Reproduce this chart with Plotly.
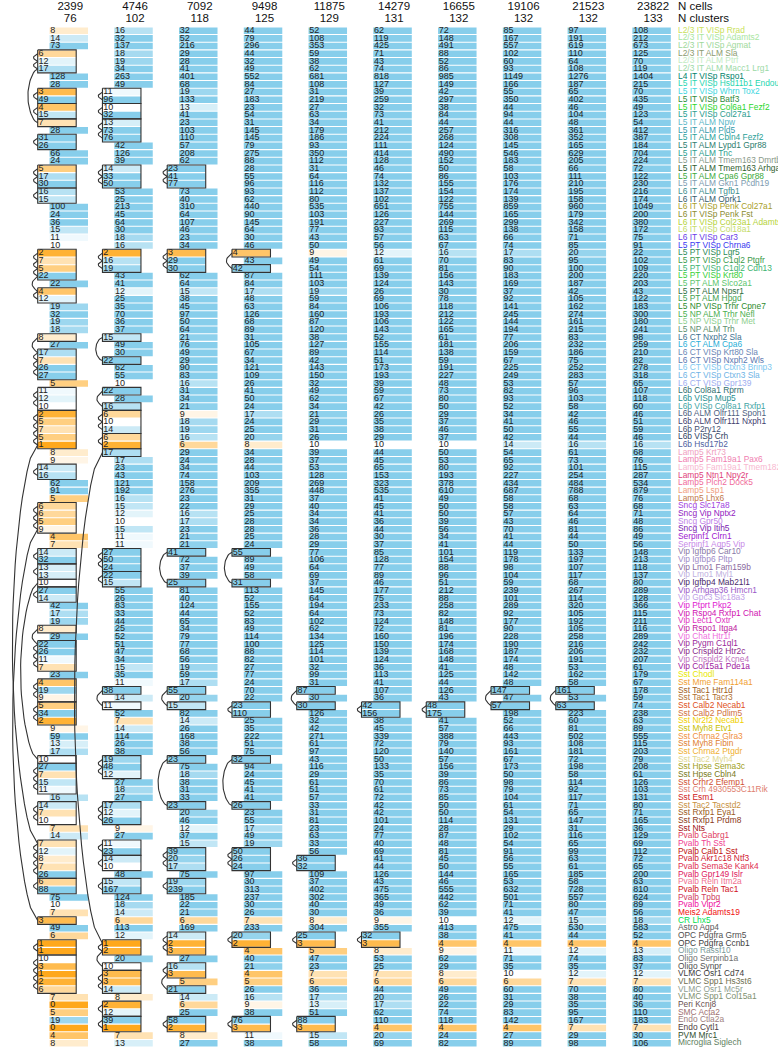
import math
import plotly.graph_objects as go

n_cells = [2399, 4746, 7092, 9498, 11875, 14279, 16655, 19106, 21523, 23822]
n_clusters = [76, 102, 118, 125, 129, 131, 132, 132, 132, 133]

cell_types = [
    "L2/3 IT VISp Rrad", "L2/3 IT VISp Adamts2", "L2/3 IT VISp Agmat", "L2/3 IT ALM Sla",
    "L2/3 IT ALM Ptrf", "L2/3 IT ALM Macc1 Lrg1", "L4 IT VISp Rspo1", "L5 IT VISp Hsd11b1 Endou",
    "L5 IT VISp Whrn Tox2", "L5 IT VISp Batf3", "L5 IT VISp Col6a1 Fezf2", "L5 IT VISp Col27a1",
    "L5 IT ALM Npw", "L5 IT ALM Pld5", "L5 IT ALM Cbln4 Fezf2", "L5 IT ALM Lypd1 Gpr88",
    "L5 IT ALM Tnc", "L5 IT ALM Tmem163 Dmrtb1", "L5 IT ALM Tmem163 Arhgap25", "L5 IT ALM Cpa6 Gpr88",
    "L5 IT ALM Gkn1 Pcdh19", "L6 IT ALM Tgfb1", "L6 IT ALM Oprk1", "L6 IT VISp Penk Col27a1",
    "L6 IT VISp Penk Fst", "L6 IT VISp Col23a1 Adamts2", "L6 IT VISp Col18a1", "L6 IT VISp Car3",
    "L5 PT VISp Chrna6", "L5 PT VISp Lgr5", "L5 PT VISp C1ql2 Ptgfr", "L5 PT VISp C1ql2 Cdh13",
    "L5 PT VISp Krt80", "L5 PT ALM Slco2a1", "L5 PT ALM Npsr1", "L5 PT ALM Hpgd",
    "L5 NP VISp Trhr Cpne7", "L5 NP ALM Trhr Nefl", "L5 NP VISp Trhr Met", "L5 NP ALM Trh",
    "L6 CT Nxph2 Sla", "L6 CT ALM Cpa6", "L6 CT VISp Krt80 Sla", "L6 CT VISp Nxph2 Wls",
    "L6 CT VISp Ctxn3 Brinp3", "L6 CT VISp Ctxn3 Sla", "L6 CT VISp Gpr139", "L6b Col8a1 Rprm",
    "L6b VISp Mup5", "L6b VISp Col8a1 Rxfp1", "L6b ALM Olfr111 Spon1", "L6b ALM Olfr111 Nxph1",
    "L6b P2ry12", "L6b VISp Crh", "L6b Hsd17b2", "Lamp5 Krt73",
    "Lamp5 Fam19a1 Pax6", "Lamp5 Fam19a1 Tmem182", "Lamp5 Ntn1 Npy2r", "Lamp5 Plch2 Dock5",
    "Lamp5 Lsp1", "Lamp5 Lhx6", "Sncg Slc17a8", "Sncg Vip Nptx2",
    "Sncg Gpr50", "Sncg Vip Itih5", "Serpinf1 Clrn1", "Serpinf1 Aqp5 Vip",
    "Vip Igfbp6 Car10", "Vip Igfbp6 Pltp", "Vip Lmo1 Fam159b", "Vip Lmo1 Myl1",
    "Vip Igfbp4 Mab21l1", "Vip Arhgap36 Hmcn1", "Vip Gpc3 Slc18a3", "Vip Ptprt Pkp2",
    "Vip Rspo4 Rxfp1 Chat", "Vip Lect1 Oxtr", "Vip Rspo1 Itga4", "Vip Chat Htr1f",
    "Vip Pygm C1ql1", "Vip Crispld2 Htr2c", "Vip Crispld2 Kcne4", "Vip Col15a1 Pde1a",
    "Sst Chodl", "Sst Mme Fam114a1", "Sst Tac1 Htr1d", "Sst Tac1 Tacr3",
    "Sst Calb2 Necab1", "Sst Calb2 Pdlim5", "Sst Nr2f2 Necab1", "Sst Myh8 Etv1",
    "Sst Chrna2 Glra3", "Sst Myh8 Fibin", "Sst Chrna2 Ptgdr", "Sst Tac2 Myh4",
    "Sst Hpse Sema3c", "Sst Hpse Cbln4", "Sst Crhr2 Efemp1", "Sst Crh 4930553C11Rik",
    "Sst Esm1", "Sst Tac2 Tacstd2", "Sst Rxfp1 Eya1", "Sst Rxfp1 Prdm8",
    "Sst Nts", "Pvalb Gabrg1", "Pvalb Th Sst", "Pvalb Calb1 Sst",
    "Pvalb Akr1c18 Ntf3", "Pvalb Sema3e Kank4", "Pvalb Gpr149 Islr", "Pvalb Reln Itm2a",
    "Pvalb Reln Tac1", "Pvalb Tpbg", "Pvalb Vipr2", "Meis2 Adamts19",
    "CR Lhx5", "Astro Aqp4", "OPC Pdgfra Grm5", "OPC Pdgfra Ccnb1",
    "Oligo Rassf10", "Oligo Serpinb1a", "Oligo Synpr", "VLMC Osr1 Cd74",
    "VLMC Spp1 Hs3st6", "VLMC Osr1 Mc5r", "VLMC Spp1 Col15a1", "Peri Kcnj8",
    "SMC Acta2", "Endo Ctla2a", "Endo Cytl1", "PVM Mrc1",
    "Microglia Siglech",
]

type_colors = [
    "#C9DF5A", "#A8E6A0", "#9ED89A", "#8B9A6E", "#C2EBC2", "#9CD9A6", "#00836B", "#1FD6B0",
    "#3FD7E0", "#2E8B3A", "#2CD62C", "#2A9D8F", "#5CB8C8", "#3399AA", "#2AA198", "#2E7D6E",
    "#2B9E8E", "#8A9A8A", "#2F5E2F", "#3CAA3C", "#7D9BB0", "#3E8E8E", "#355C6B", "#A8A02A",
    "#8C8C30", "#B5D33A", "#C5DC6A", "#6A3DE8", "#3A3AF0", "#2E8B57", "#3A9A4A", "#3CB371",
    "#38D038", "#5DC56D", "#2F6F3F", "#3F9F4F", "#2E8B2E", "#4CAF50", "#8FCF8F", "#5E8F6E",
    "#3E7391", "#2AAFD8", "#6A87B5", "#5A78B0", "#7EC8F0", "#6FB4E6", "#9EAEF0", "#2F6F6F",
    "#1F8F8F", "#3FA5A5", "#4F5F7F", "#3F3F6F", "#3F4F6F", "#2F3F5F", "#4F5FA0", "#F0A0C0",
    "#F080B0", "#F8B8D0", "#E0407A", "#F06A9A", "#F0A080", "#C0784A", "#A040E0", "#9020C0",
    "#C080E8", "#7A20B0", "#A020D0", "#C88AE8", "#8A7AA8", "#A08AC8", "#8A6AA0", "#C0B0E0",
    "#4A2A6A", "#9A5AC8", "#C0A0E8", "#E020D0", "#D010B0", "#E030C0", "#C020A0", "#F070E0",
    "#9A2A9A", "#8A2A8A", "#C070C0", "#A020A0", "#E8E800", "#F0A030", "#A06020", "#B07030",
    "#E05020", "#D07040", "#F0D000", "#C8C000", "#F09040", "#E08030", "#F0B030", "#E0D890",
    "#A0A020", "#7A7A20", "#D05030", "#E08070", "#D02020", "#C89040", "#9A5A20", "#8A3A20",
    "#A01010", "#E04060", "#F04090", "#C01010", "#D02030", "#E03050", "#E02060", "#F07090",
    "#D01020", "#D04060", "#F010A0", "#F01010", "#00E050", "#606060", "#505050", "#404040",
    "#7A9A9A", "#707070", "#505050", "#404040", "#707050", "#90A090", "#809070", "#6A5050",
    "#A07070", "#A08080", "#504040", "#305030", "#608060",
]

cells_2399 = [8, 14, 73, 6, 12, 17, 128, 28, 3, 49, 4, 15, 7, 28, 31, 26, 66, 24, 5, 17,
              30, 16, 15, 100, 24, 36, 15, 11, 10, 2, 7, 5, 22, 22, 4, 12, 19, 32, 19, 18,
              8, 27, 17, 7, 26, 27, 5, 11, 12, 10, 2, 5, 7, 5, 1, 8, 9, 14, 16, 62,
              91, 5, 6, 6, 5, 9, 4, 7, 14, 32, 13, 13, 10, 27, 14, 42, 17, 19, 8, 29,
              22, 26, 11, 7, 23, 4, 19, 9, 5, 34, 2, 9, 59, 13, 17, 10, 27, 7, 15, 11,
              16, 14, 7, 10, 7, 14, 7, 12, 8, 7, 26, 6, 88, 75, 10, 7, 3, 49, 6, 1,
              1, 10, 3, 1, 2, 6, 7, 0, 5, 19, 0, 4, 8]
cells_4746 = [16, 32, 137, 18, 19, 34, 263, 49, 11, 96, 10, 32, 13, 73, 76, 42, 126, 39, 14, 33,
              50, 53, 25, 213, 45, 64, 30, 18, 16, 2, 16, 19, 43, 41, 12, 25, 35, 70, 36, 37,
              15, 49, 30, 22, 62, 55, 10, 22, 28, 16, 6, 10, 14, 6, 2, 17, 17, 23, 43, 121,
              192, 16, 15, 12, 10, 15, 11, 11, 27, 50, 24, 22, 15, 55, 26, 83, 33, 44, 25, 52,
              51, 47, 34, 15, 35, 11, 38, 14, 11, 52, 7, 14, 114, 26, 38, 19, 48, 12, 27, 18,
              27, 17, 12, 26, 9, 27, 11, 23, 14, 10, 48, 15, 167, 124, 18, 14, 6, 113, 12, 1,
              2, 20, 10, 3, 3, 14, 8, 2, 12, 39, 1, 7, 13]
cells_7092 = [32, 52, 216, 29, 28, 41, 401, 68, 19, 133, 13, 41, 23, 103, 110, 57, 208, 62, 23, 41,
              77, 73, 40, 310, 64, 107, 46, 23, 34, 3, 29, 30, 62, 64, 15, 38, 45, 97, 50, 64,
              21, 76, 49, 29, 90, 83, 16, 31, 34, 21, 9, 18, 19, 16, 6, 29, 24, 34, 74, 158,
              276, 23, 22, 16, 17, 23, 21, 21, 41, 72, 37, 39, 25, 81, 40, 124, 44, 65, 34, 79,
              77, 68, 56, 19, 59, 17, 55, 20, 15, 82, 14, 26, 168, 38, 56, 23, 75, 18, 38, 31,
              33, 23, 20, 46, 12, 37, 15, 39, 20, 17, 75, 19, 239, 185, 22, 21, 6, 169, 14, 2,
              3, 27, 16, 3, 5, 21, 14, 6, 25, 58, 2, 8, 27]
cells_9498 = [44, 79, 296, 44, 32, 49, 552, 84, 27, 183, 23, 54, 31, 145, 145, 79, 275, 88, 28, 55,
              96, 93, 62, 440, 90, 145, 64, 30, 46, 4, 43, 42, 87, 84, 17, 48, 63, 126, 68, 89,
              31, 105, 67, 34, 121, 109, 26, 41, 50, 24, 17, 24, 25, 20, 8, 34, 28, 44, 103, 209,
              355, 31, 29, 25, 28, 28, 25, 24, 55, 89, 49, 58, 31, 113, 52, 155, 52, 83, 49, 114,
              100, 88, 82, 27, 77, 24, 70, 22, 23, 110, 25, 35, 222, 51, 75, 32, 94, 24, 45, 41,
              41, 26, 23, 55, 17, 49, 19, 50, 26, 24, 97, 30, 313, 237, 30, 26, 7, 233, 20, 2,
              4, 40, 21, 4, 5, 26, 16, 9, 38, 76, 3, 11, 38]
cells_11875 = [52, 108, 353, 59, 38, 62, 681, 108, 31, 219, 27, 63, 34, 179, 186, 93, 350, 112, 31, 64,
               116, 112, 80, 535, 103, 191, 77, 43, 50, 9, 49, 54, 111, 103, 19, 59, 84, 160, 87, 120,
               38, 127, 89, 42, 143, 150, 32, 49, 62, 34, 21, 29, 31, 26, 10, 39, 37, 53, 128, 269,
               448, 37, 40, 34, 34, 36, 28, 29, 77, 106, 64, 69, 37, 145, 64, 194, 64, 102, 62, 134,
               125, 114, 101, 32, 99, 31, 87, 30, 30, 126, 32, 42, 271, 61, 97, 43, 116, 29, 61, 51,
               57, 33, 31, 81, 23, 63, 33, 56, 36, 32, 109, 37, 402, 302, 40, 30, 8, 304, 25, 3,
               5, 47, 23, 7, 6, 36, 17, 13, 51, 88, 3, 15, 58]
cells_14279 = [62, 119, 425, 71, 43, 74, 818, 127, 39, 259, 32, 73, 41, 212, 224, 111, 414, 128, 46, 74,
               132, 137, 102, 651, 126, 227, 93, 57, 56, 12, 61, 69, 139, 124, 26, 69, 106, 193, 106, 143,
               52, 155, 114, 51, 173, 193, 39, 59, 67, 42, 26, 35, 38, 29, 10, 44, 45, 65, 153, 323,
               535, 41, 45, 41, 36, 44, 30, 37, 85, 128, 77, 89, 46, 177, 75, 233, 73, 124, 72, 160,
               150, 139, 124, 36, 113, 41, 107, 36, 42, 156, 38, 45, 339, 72, 120, 50, 133, 35, 70, 61,
               72, 42, 42, 101, 24, 77, 40, 69, 41, 44, 126, 43, 475, 365, 49, 36, 9, 355, 32, 3,
               8, 53, 25, 7, 6, 44, 20, 17, 62, 110, 4, 20, 69]
cells_16655 = [72, 148, 491, 88, 52, 86, 985, 149, 42, 297, 38, 84, 44, 257, 268, 124, 490, 152, 50, 86,
               155, 154, 122, 755, 144, 269, 115, 63, 67, 16, 70, 81, 156, 143, 30, 78, 118, 212, 122, 165,
               61, 181, 138, 59, 191, 227, 48, 73, 80, 50, 29, 37, 46, 37, 10, 50, 53, 80, 193, 378,
               610, 49, 50, 50, 39, 56, 34, 41, 101, 154, 88, 96, 51, 212, 88, 258, 82, 148, 81, 196,
               174, 168, 148, 41, 125, 44, 126, 43, 48, 175, 41, 57, 388, 79, 140, 57, 156, 39, 86, 73,
               85, 50, 50, 114, 28, 87, 48, 81, 45, 50, 144, 46, 555, 442, 62, 39, 10, 413, 38, 4,
               9, 62, 29, 8, 6, 49, 26, 22, 74, 118, 4, 24, 82]
cells_19106 = [85, 167, 557, 102, 60, 93, 1149, 166, 55, 350, 44, 94, 44, 316, 308, 145, 546, 183, 58, 103,
               176, 174, 139, 859, 165, 299, 138, 66, 74, 17, 83, 90, 183, 169, 37, 92, 141, 245, 144, 194,
               77, 206, 159, 67, 225, 249, 53, 82, 93, 52, 34, 41, 50, 42, 14, 54, 65, 92, 227, 434,
               687, 58, 58, 57, 43, 70, 41, 44, 119, 178, 98, 104, 59, 239, 101, 289, 92, 177, 90, 228,
               190, 187, 174, 48, 142, 48, 147, 47, 57, 198, 52, 66, 443, 93, 161, 67, 173, 50, 98, 79,
               104, 61, 54, 131, 29, 102, 54, 91, 56, 55, 165, 53, 632, 501, 71, 41, 12, 475, 41, 4,
               11, 71, 35, 10, 6, 60, 31, 29, 83, 142, 4, 27, 89]
cells_21523 = [97, 191, 619, 110, 64, 108, 1276, 187, 65, 402, 46, 104, 48, 361, 352, 165, 629, 205, 66, 111,
               210, 195, 158, 960, 179, 342, 158, 71, 85, 20, 95, 100, 200, 187, 42, 105, 162, 274, 161, 215,
               83, 232, 186, 75, 252, 283, 57, 96, 103, 58, 42, 46, 55, 44, 16, 61, 73, 101, 254, 484,
               788, 68, 63, 64, 46, 81, 44, 50, 133, 197, 107, 117, 68, 267, 114, 320, 105, 192, 105, 258,
               216, 206, 191, 53, 162, 58, 161, 53, 63, 223, 60, 81, 502, 108, 181, 72, 198, 58, 114, 92,
               117, 71, 65, 147, 31, 116, 65, 99, 63, 61, 185, 58, 728, 557, 80, 47, 15, 530, 44, 4,
               12, 74, 35, 12, 7, 70, 38, 35, 95, 167, 7, 29, 98]
cells_23822 = [108, 212, 673, 125, 70, 119, 1404, 215, 70, 435, 49, 123, 54, 412, 387, 184, 704, 224, 72, 122,
               230, 216, 174, 1049, 200, 380, 172, 75, 91, 22, 102, 109, 220, 203, 43, 122, 183, 300, 180, 241,
               98, 259, 210, 82, 278, 318, 65, 107, 118, 60, 46, 51, 59, 46, 16, 68, 76, 115, 287, 534,
               879, 76, 68, 71, 48, 86, 49, 56, 148, 213, 118, 137, 80, 289, 128, 366, 115, 211, 116, 289,
               242, 232, 207, 61, 179, 67, 178, 59, 74, 238, 63, 89, 555, 115, 203, 79, 208, 61, 126, 103,
               131, 80, 71, 165, 36, 129, 69, 112, 72, 65, 200, 63, 810, 624, 89, 56, 18, 583, 52, 4,
               13, 83, 37, 12, 7, 80, 40, 36, 110, 183, 7, 30, 106]

# merged cluster groups (1-based row numbers) per subsample
merged_2399 = [[4, 5, 6, 13], [9, 10], [11, 12], [15, 16], [19, 20, 21], [22, 23],
               [30, 31, 32, 33, 35, 36], [41, 43, 44, 45, 46], [48, 49, 50],
               [51, 52, 53, 54, 55, 107, 108, 109, 110, 111], [58, 59], [63, 64, 65, 66, 117],
               [69, 70], [71, 72], [73, 96], [74, 75], [79, 81, 82, 83, 84], [86, 87, 88],
               [89, 90, 91], [97, 98, 99, 100], [102, 103, 104], [112, 113], [120, 121],
               [122, 123, 124, 125, 126]]
merged_4746 = [[9, 10], [11, 12], [13, 14, 15], [19, 20, 21], [30, 31, 32], [41, 44], [48, 50],
               [51, 52, 53], [54, 55], [56, 120, 121, 123], [69, 70, 71], [72, 73], [87, 89],
               [96, 97, 98], [102, 103, 104], [107, 108], [109, 110], [112, 113], [124, 125, 126],
               [128, 129], [130, 131]]
merged_7092 = [[19, 20, 21], [30, 31, 32], [69, 73], [87, 89], [96, 102], [108, 109, 110],
               [112, 113], [119, 120, 121], [123, 124, 126], [130, 131]]
merged_9498 = [[30, 32], [69, 73], [89, 90], [96, 102], [108, 109, 110], [119, 120], [130, 131]]
merged_11875 = [[87, 89], [109, 110], [119, 120], [130, 131]]
merged_14279 = [[89, 90], [119, 120]]
merged_16655 = [[89, 90]]
merged_19106 = [[87, 89]]
merged_21523 = [[87, 89]]
merged_23822 = []

columns = [cells_2399, cells_4746, cells_7092, cells_9498, cells_11875,
           cells_14279, cells_16655, cells_19106, cells_21523, cells_23822]
merges = [merged_2399, merged_4746, merged_7092, merged_9498, merged_11875,
          merged_14279, merged_16655, merged_19106, merged_21523, merged_23822]

# ---- geometry / style (page pixels) ----
ROW_PX = 7.671
Y_FIRST = 30.7
X0, DX, W, SHIFT = 49.5, 64.76, 38.5, 11.8
LABEL_X = 678
NUM_FONT = "Liberation Sans Narrow, Arial Narrow, Liberation Sans, Arial"
HEAD_FONT = "Liberation Sans, Arial"


def row_of_px(p):
    return 1 + (p - Y_FIRST) / ROW_PX


def cell_color(v):
    if v < 10:
        t = min(1.0, (10 - v) / 9.0)
        c1 = (255, 168, 28)
    else:
        t = min(1.0, math.log(v / 10.0) / math.log(2.2))
        c1 = (135, 206, 235)
    r, g, b = (round(255 + (c - 255) * t) for c in c1)
    return f"rgb({r},{g},{b})"


def runs_of(group):
    g = sorted(group)
    out, start, prev = [], g[0], g[0]
    for r in g[1:]:
        if r == prev + 1:
            prev = r
            continue
        out.append((start, prev))
        start = prev = r
    out.append((start, prev))
    return out


rows = list(range(1, len(cell_types) + 1))
fig = go.Figure()

for k, (vals, groups) in enumerate(zip(columns, merges)):
    boxed = {r for g in groups for r in g}
    lefts = [X0 + DX * k - (SHIFT if r in boxed else 0) for r in rows]
    fig.add_trace(go.Bar(
        y=rows, x=[W] * len(rows), base=lefts, orientation="h", width=0.86,
        marker=dict(color=[cell_color(v) for v in vals], line=dict(width=0)),
        hoverinfo="skip"))
    fig.add_trace(go.Scatter(
        x=[l + 0.8 for l in lefts], y=rows, mode="text", text=[str(v) for v in vals],
        textposition="middle right", cliponaxis=False,
        textfont=dict(size=9, color="#222222", family=NUM_FONT), hoverinfo="skip"))
    xs, ys = [], []
    bl = X0 + DX * k - SHIFT
    for g in groups:
        for s, e in runs_of(g):
            xs += [bl, bl + W, bl + W, bl, bl, None]
            ys += [s - 0.5, s - 0.5, e + 0.5, e + 0.5, s - 0.5, None]
        g = sorted(g)
        for a, b in zip(g[:-1], g[1:]):
            gap = b - a
            d = 3.4 * math.sqrt(gap) + 0.8
            p = 1.0 if gap <= 2 else 0.55
            n = 30 if gap > 2 else 16
            for i in range(n + 1):
                t = i / n
                xs.append(bl - d * (math.sin(math.pi * t) ** p))
                ys.append(a + gap * t)
            xs.append(None)
            ys.append(None)
    if xs:
        fig.add_trace(go.Scatter(x=xs, y=ys, mode="lines", cliponaxis=False,
                                 line=dict(color="#333333", width=1.1), hoverinfo="skip"))

centers = [X0 + DX * k + W / 2 + 1.5 for k in range(len(n_cells))]
fig.add_trace(go.Scatter(
    x=centers, y=[row_of_px(7)] * len(centers), mode="text", text=[str(v) for v in n_cells],
    textposition="middle center", cliponaxis=False,
    textfont=dict(size=11.5, color="#111111", family=HEAD_FONT), hoverinfo="skip"))
fig.add_trace(go.Scatter(
    x=centers, y=[row_of_px(19)] * len(centers), mode="text", text=[str(v) for v in n_clusters],
    textposition="middle center", cliponaxis=False,
    textfont=dict(size=11.5, color="#111111", family=HEAD_FONT), hoverinfo="skip"))
fig.add_trace(go.Scatter(
    x=[LABEL_X, LABEL_X], y=[row_of_px(7), row_of_px(19)], mode="text",
    text=["N cells", "N clusters"], textposition="middle right", cliponaxis=False,
    textfont=dict(size=11.5, color="#111111", family=HEAD_FONT), hoverinfo="skip"))

fig.add_trace(go.Scatter(
    x=[LABEL_X] * len(rows), y=rows, mode="text", text=cell_types,
    textposition="middle right", cliponaxis=False,
    textfont=dict(size=8.4, color=type_colors, family=NUM_FONT), hoverinfo="skip"))

fig.update_layout(
    width=778, height=1050, margin=dict(l=0, r=0, t=0, b=0),
    plot_bgcolor="white", paper_bgcolor="white", showlegend=False, barmode="overlay",
    xaxis=dict(range=[0, 778], visible=False, fixedrange=True),
    yaxis=dict(range=[row_of_px(1050), row_of_px(0)], visible=False, fixedrange=True),
)
fig.write_html(
    "out.html",
    config={"displayModeBar": False, "staticPlot": True},
    post_script="document.body.style.margin='0px';document.body.style.overflow='hidden';")
